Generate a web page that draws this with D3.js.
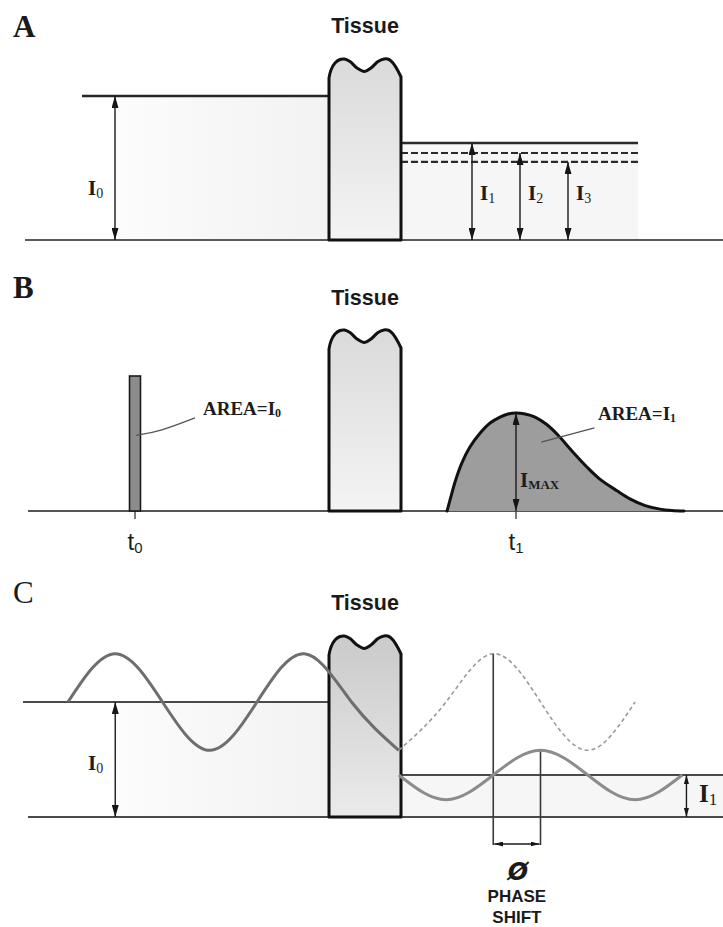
<!DOCTYPE html>
<html>
<head>
<meta charset="utf-8">
<script src="https://cdn.jsdelivr.net/npm/d3@7"></script>
<style>
  html, body { margin: 0; padding: 0; background: #fff; }
  svg { display: block; }
</style>
</head>
<body>
<script>
// ---------- data ----------
const panelLetters = ["A", "B", "C"];
const tissueLabel = "Tissue";

// Panel A: steady illumination, incident level I0 = 1 and three transmitted levels
const incidentLevelA = [1];
const transmittedNamesA = ["I1", "I2", "I3"];
const transmittedLevelsA = [0.674, 0.604, 0.542];

// Panel B: short pulse at t0 (unit height) and the broadened pulse peaking at t1
const timeLabels = ["t0", "t1"];
const timeValues = [0, 1];
const pulseHeight = [1];
const pulseHalfWidth = [0.0144];
const tofTime = [0.819, 0.829, 0.840, 0.858, 0.879, 0.906, 0.932, 0.958, 0.979, 1.000,
                 1.024, 1.050, 1.079, 1.110, 1.147, 1.186, 1.220, 1.265, 1.299, 1.339,
                 1.378, 1.409, 1.441];
const tofIntensity = [0, 0.104, 0.215, 0.356, 0.474, 0.578, 0.652, 0.696, 0.719, 0.726,
                      0.719, 0.696, 0.644, 0.563, 0.444, 0.326, 0.236, 0.150, 0.090, 0.040,
                      0.014, 0.004, 0];

// Panel C: intensity-modulated source (phase in degrees, intensity relative to I0)
const incidentPhase = [0, 90, 180, 270, 360, 450, 540, 630];
const incidentValue = [1, 1.42, 1, 0.58, 1, 1.42, 1, 0.58];
const unattenuatedPhase = [630, 720, 810, 900, 990, 1080];
const unattenuatedValue = [0.58, 1, 1.42, 1, 0.58, 1];
const transmittedPhase = [630, 720, 810, 900, 990, 1080, 1170];
const transmittedValue = [0.365, 0.15, 0.365, 0.58, 0.365, 0.15, 0.365];
const meanLevelsC = [1, 0.365];          // I0, I1
const shiftPhases = [810, 900];          // reference peak, transmitted peak
const arrowPhasesC = [90, 1178];         // I0 arrow, I1 arrow

// ---------- setup ----------
const W = 723, H = 927;
const serif = "'Liberation Serif','Times New Roman',Times,serif";
const sans = "'Liberation Sans',Arial,Helvetica,sans-serif";
const tissueLeft = 329, tissueWidth = 72, tissueRight = tissueLeft + tissueWidth;

const svg = d3.select("body").append("svg")
  .attr("width", W).attr("height", H)
  .attr("viewBox", `0 0 ${W} ${H}`);

const defs = svg.append("defs");

function arrowMarker(id, len, wid) {
  defs.append("marker")
    .attr("id", id)
    .attr("viewBox", "0 0 10 10")
    .attr("refX", 10).attr("refY", 5)
    .attr("markerUnits", "userSpaceOnUse")
    .attr("markerWidth", len).attr("markerHeight", wid)
    .attr("preserveAspectRatio", "none")
    .attr("orient", "auto-start-reverse")
    .append("path").attr("d", "M0,0L10,5L0,10Z").attr("fill", "#151515");
}
arrowMarker("head", 12, 7);
arrowMarker("headSmall", 9, 5);

function linGrad(id, x1, y1, x2, y2, stops) {
  const g = defs.append("linearGradient").attr("id", id)
    .attr("x1", x1).attr("y1", y1).attr("x2", x2).attr("y2", y2);
  stops.forEach(([o, c]) => g.append("stop").attr("offset", o).attr("stop-color", c));
}
linGrad("tissueLight", "0", "0", "0", "1", [["0", "#dadada"], ["1", "#f4f4f4"]]);
linGrad("tissueDark", "0", "0", "0", "1", [["0", "#cacaca"], ["1", "#ebebeb"]]);
linGrad("haze", "0", "0", "1", "0", [["0", "#fcfcfc"], ["1", "#f2f2f2"]]);

// tissue outline: straight sides, two-lobed top (offsets from bottom-left corner)
const tissueTop = [[0, -162], [2, -170], [6, -177], [11, -180.5], [15.5, -181], [21, -178.5],
                   [28, -172], [35.5, -168.5], [42, -172], [49, -178.5], [55, -181],
                   [60, -180.5], [64, -177], [68.5, -170], [72, -163]];
function drawTissue(g, yBottom, fill) {
  const top = d3.line().curve(d3.curveCatmullRom)(tissueTop.map(([dx, dy]) => [tissueLeft + dx, yBottom + dy]));
  const d = `M${tissueLeft},${yBottom}L${top.slice(1)}L${tissueRight},${yBottom}Z`;
  g.append("path").attr("d", d)
    .attr("fill", `url(#${fill})`).attr("stroke", "#111")
    .attr("stroke-width", 3).attr("stroke-linejoin", "round");
}

function hline(g, x1, x2, y, color, width, dash) {
  const l = g.append("line").attr("x1", x1).attr("x2", x2).attr("y1", y).attr("y2", y)
    .attr("stroke", color).attr("stroke-width", width);
  if (dash) l.attr("stroke-dasharray", dash);
  return l;
}
function vArrow(g, x, yTop, yBottom, marker) {
  g.append("line").attr("x1", x).attr("x2", x).attr("y1", yBottom).attr("y2", yTop)
    .attr("stroke", "#1a1a1a").attr("stroke-width", 1.4)
    .attr("marker-start", `url(#${marker || "head"})`)
    .attr("marker-end", `url(#${marker || "head"})`);
}
function subText(g, x, y, main, sub, o) {
  const t = g.append("text").attr("x", x).attr("y", y)
    .attr("font-family", o.family || serif)
    .attr("font-weight", o.weight || "bold")
    .attr("font-size", o.size)
    .attr("fill", "#1c1c1c")
    .attr("text-anchor", o.anchor || "start");
  t.append("tspan").text(main);
  t.append("tspan").attr("font-size", o.subSize).attr("dy", o.dy)
    .attr("font-weight", o.subWeight || o.weight || "bold").text(sub);
  return t;
}
function panelHeading(g, letter, yLetter, yTissue, weight) {
  g.append("text").attr("x", 13).attr("y", yLetter)
    .attr("font-family", serif).attr("font-weight", weight).attr("font-size", 31)
    .attr("fill", "#1a1a1a").text(letter);
  g.append("text").attr("x", tissueLeft + tissueWidth / 2).attr("y", yTissue)
    .attr("text-anchor", "middle").attr("font-family", sans).attr("font-weight", "bold")
    .attr("font-size", 21.5).attr("fill", "#1a1a1a").text(tissueLabel);
}

// ---------- Panel A ----------
const yA = d3.scaleLinear().domain([0, 1]).range([240, 96]);
const xArrowA = d3.scalePoint().domain(transmittedNamesA).range([472, 568]);
const gA = svg.append("g");

gA.append("rect").attr("x", 115).attr("y", yA(incidentLevelA[0]))
  .attr("width", tissueLeft - 115).attr("height", yA(0) - yA(incidentLevelA[0]))
  .attr("fill", "url(#haze)");
gA.append("rect").attr("x", tissueRight).attr("y", yA(transmittedLevelsA[0]))
  .attr("width", 638 - tissueRight).attr("height", yA(0) - yA(transmittedLevelsA[0]))
  .attr("fill", "#f6f6f6");

hline(gA, 25, W, yA(0), "#5a5a5a", 2);
hline(gA, 82, tissueLeft, yA(incidentLevelA[0]), "#262626", 2.6);
transmittedLevelsA.forEach((v, i) => {
  hline(gA, tissueRight, 638, yA(v), "#2a2a2a", i === 0 ? 2.6 : 2.2, i === 0 ? null : "7,3");
});
vArrow(gA, 115, yA(incidentLevelA[0]), yA(0));
transmittedNamesA.forEach((n, i) => vArrow(gA, xArrowA(n), yA(transmittedLevelsA[i]), yA(0)));

drawTissue(gA, yA(0), "tissueLight");
panelHeading(gA, panelLetters[0], 37, 33, "bold");

subText(gA, 88, 195, "I", "0", { size: 21, subSize: 14, dy: 3, subWeight: "normal" });
transmittedNamesA.forEach((n) => {
  subText(gA, xArrowA(n) + 8, 200, "I", n.slice(1), { size: 21, subSize: 14, dy: 3, subWeight: "normal" });
});

// ---------- Panel B ----------
const xB = d3.scaleLinear().domain([0, 1]).range([135, 516]);
const yB = d3.scaleLinear().domain([0, 1]).range([511, 376]);
const gB = svg.append("g");
const tof = tofTime.map((t, i) => ({ t, v: tofIntensity[i] }));
const peakB = tof.reduce((a, b) => (b.v > a.v ? b : a));

hline(gB, 28, W, yB(0), "#555", 2);
timeValues.forEach((t) => {
  gB.append("line").attr("x1", xB(t)).attr("x2", xB(t)).attr("y1", yB(0)).attr("y2", yB(0) + 8)
    .attr("stroke", "#444").attr("stroke-width", 1.4);
});

gB.append("rect")
  .attr("x", xB(timeValues[0] - pulseHalfWidth[0]))
  .attr("y", yB(pulseHeight[0]))
  .attr("width", xB(pulseHalfWidth[0]) - xB(-pulseHalfWidth[0]))
  .attr("height", yB(0) - yB(pulseHeight[0]))
  .attr("fill", "#8c8c8c").attr("stroke", "#1a1a1a").attr("stroke-width", 1.6);

const tofCurve = d3.curveCatmullRom.alpha(0.5);
gB.append("path").datum(tof)
  .attr("d", d3.area().x((d) => xB(d.t)).y0(yB(0)).y1((d) => Math.min(yB(0), yB(d.v))).curve(tofCurve))
  .attr("fill", "#9d9d9d");
gB.append("path").datum(tof)
  .attr("d", d3.line().x((d) => xB(d.t)).y((d) => yB(d.v)).curve(tofCurve))
  .attr("fill", "none").attr("stroke", "#111").attr("stroke-width", 3).attr("stroke-linecap", "round");

vArrow(gB, xB(peakB.t), yB(peakB.v), yB(0));
drawTissue(gB, yB(0), "tissueLight");
panelHeading(gB, panelLetters[1], 298, 305, "bold");

// leader lines for the area labels
gB.append("path")
  .attr("d", d3.line().curve(d3.curveBasis)([[xB(0) + 1, yB(0.56)], [xB(0) + 25, yB(0.59)], [xB(0) + 60, yB(0.69)]]))
  .attr("fill", "none").attr("stroke", "#555").attr("stroke-width", 1.3);
gB.append("line").attr("x1", xB(1.066)).attr("y1", yB(0.51)).attr("x2", xB(1.206)).attr("y2", yB(0.615))
  .attr("stroke", "#555").attr("stroke-width", 1.3);

subText(gB, 203, 415, "AREA=I", "0", { size: 19, subSize: 12, dy: 2 });
subText(gB, 598, 420, "AREA=I", "1", { size: 19, subSize: 12, dy: 2 });
subText(gB, xB(peakB.t) + 4, 487, "I", "MAX", { size: 21, subSize: 13, dy: 2 });

timeLabels.forEach((lab, i) => {
  subText(gB, xB(timeValues[i]), 550, lab.charAt(0), lab.slice(1),
    { family: sans, weight: "normal", size: 24, subSize: 15, dy: 3, anchor: "middle" });
});

// ---------- Panel C ----------
const xC = d3.scaleLinear().domain([0, 360]).range([68, 257]);
const yC = d3.scaleLinear().domain([0, 1]).range([817, 702]);
const gC = svg.append("g");
const wave = d3.line().x((d) => xC(d[0])).y((d) => yC(d[1])).curve(d3.curveNatural);
const zip = (a, b) => a.map((v, i) => [v, b[i]]);
const belowAxis = -0.2435;

gC.append("rect").attr("x", xC(arrowPhasesC[0])).attr("y", yC(meanLevelsC[0]))
  .attr("width", tissueLeft - xC(arrowPhasesC[0])).attr("height", yC(0) - yC(meanLevelsC[0]))
  .attr("fill", "url(#haze)");
gC.append("rect").attr("x", tissueRight).attr("y", yC(meanLevelsC[1]))
  .attr("width", W - tissueRight).attr("height", yC(0) - yC(meanLevelsC[1]))
  .attr("fill", "#f6f6f6");

hline(gC, 28, W, yC(0), "#4a4a4a", 2.2);
hline(gC, 23, tissueLeft, yC(meanLevelsC[0]), "#4a4a4a", 2);
hline(gC, tissueRight, W, yC(meanLevelsC[1]), "#4a4a4a", 2);

drawTissue(gC, yC(0), "tissueDark");

// unattenuated reference continuation (dashed)
gC.append("path").attr("d", wave(zip(unattenuatedPhase, unattenuatedValue)))
  .attr("fill", "none").attr("stroke", "#9a9a9a").attr("stroke-width", 1.6)
  .attr("stroke-dasharray", "4,3");

// phase-shift markers
gC.append("line").attr("x1", xC(shiftPhases[0])).attr("x2", xC(shiftPhases[0]))
  .attr("y1", yC(d3.max(unattenuatedValue))).attr("y2", yC(belowAxis))
  .attr("stroke", "#3a3a3a").attr("stroke-width", 1.6);
gC.append("line").attr("x1", xC(shiftPhases[1])).attr("x2", xC(shiftPhases[1]))
  .attr("y1", yC(d3.max(transmittedValue))).attr("y2", yC(belowAxis))
  .attr("stroke", "#3a3a3a").attr("stroke-width", 1.6);
gC.append("line").attr("x1", xC(shiftPhases[0]) + 1).attr("x2", xC(shiftPhases[1]) - 1)
  .attr("y1", yC(belowAxis) - 1).attr("y2", yC(belowAxis) - 1)
  .attr("stroke", "#1a1a1a").attr("stroke-width", 1.3)
  .attr("marker-start", "url(#headSmall)").attr("marker-end", "url(#headSmall)");

// incident and transmitted waves
gC.append("path").attr("d", wave(zip(incidentPhase, incidentValue)))
  .attr("fill", "none").attr("stroke", "#6e6e6e").attr("stroke-width", 3);
gC.append("path").attr("d", wave(zip(transmittedPhase, transmittedValue)))
  .attr("fill", "none").attr("stroke", "#8c8c8c").attr("stroke-width", 3);

vArrow(gC, xC(arrowPhasesC[0]), yC(meanLevelsC[0]), yC(0));
vArrow(gC, xC(arrowPhasesC[1]), yC(meanLevelsC[1]), yC(0), "headSmall");

panelHeading(gC, panelLetters[2], 603, 610, "normal");
subText(gC, 88, 770, "I", "0", { size: 21, subSize: 14, dy: 3, subWeight: "normal" });
subText(gC, 699, 802, "I", "1", { size: 25, subSize: 17, dy: 3, subWeight: "normal" });

const shiftMid = (xC(shiftPhases[0]) + xC(shiftPhases[1])) / 2;
gC.append("text").attr("x", shiftMid + 1).attr("y", 880).attr("text-anchor", "middle")
  .attr("font-family", "'DejaVu Sans',sans-serif").attr("font-weight", "bold").attr("font-style", "italic")
  .attr("font-size", 24).attr("fill", "#1a1a1a").text("Ø");
gC.append("text").attr("x", shiftMid).attr("y", 902).attr("text-anchor", "middle")
  .attr("font-family", sans).attr("font-weight", "bold").attr("font-size", 17)
  .attr("fill", "#1a1a1a").text("PHASE");
gC.append("text").attr("x", shiftMid).attr("y", 923).attr("text-anchor", "middle")
  .attr("font-family", sans).attr("font-weight", "bold").attr("font-size", 17)
  .attr("fill", "#1a1a1a").text("SHIFT");
</script>
</body>
</html>
